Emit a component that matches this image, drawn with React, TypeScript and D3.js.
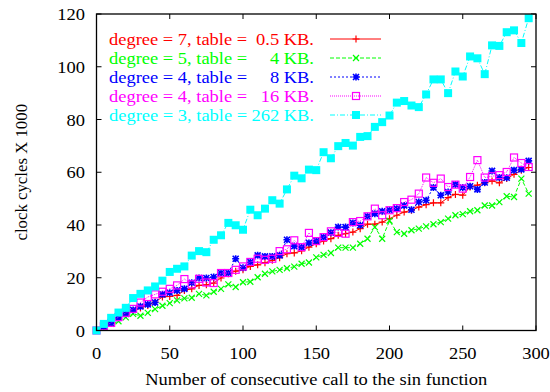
import React from "react";
import * as d3 from "d3";

// x positions: number of consecutive calls
const calls = d3.range(0, 300, 5);

// clock cycles (x1000) per configuration
const deg7Table05 = [
  0, 1.3, 2.8, 4.8, 6.1, 7.3, 8.5, 9.5, 10.8, 12.7, 12.9, 13.3, 15.2, 15.8, 17.1, 17.3, 18.0, 19.9, 21.5, 22.5,
  23.0, 24.3, 24.9, 25.7, 26.6, 27.6, 29.1, 29.4, 30.2, 31.6, 32.9, 33.9, 34.8, 36.1, 36.7, 37.3, 38.6, 40.3, 40.3, 41.1,
  42.4, 43.7, 44.9, 45.6, 46.8, 47.7, 48.4, 48.4, 50.4, 51.6, 51.3, 54.4, 55.1, 56.0, 56.7, 56.0, 57.6, 59.2, 60.8, 61.8,
];
const deg5Table4 = [
  0, 1.2, 2.5, 3.5, 5.0, 6.3, 5.6, 6.7, 8.1, 9.4, 10.4, 11.4, 12.2, 12.4, 13.9, 13.3, 14.7, 15.8, 17.5, 16.5,
  18.3, 18.5, 20.2, 21.5, 22.4, 23.0, 23.6, 24.2, 25.3, 25.8, 27.7, 28.7, 29.4, 31.4, 31.4, 31.4, 32.9, 34.8, 39.2, 34.8,
  41.6, 37.3, 36.7, 38.0, 38.6, 39.5, 40.3, 41.1, 42.4, 43.7, 44.1, 45.2, 45.6, 47.4, 47.4, 48.7, 50.9, 50.6, 57.6, 51.9,
];
const deg4Table8 = [
  0, 1.5, 2.8, 4.8, 6.3, 7.8, 9.1, 9.9, 10.6, 13.7, 14.3, 15.2, 15.8, 18.1, 19.9, 19.9, 20.3, 21.8, 21.8, 27.2,
  23.8, 25.9, 28.5, 28.1, 28.1, 28.5, 34.4, 32.0, 31.6, 33.2, 34.0, 35.4, 37.1, 39.2, 39.2, 40.8, 39.9, 43.3, 44.3, 45.2,
  45.7, 46.2, 47.4, 45.8, 48.7, 49.4, 54.2, 51.3, 52.5, 55.4, 54.2, 54.7, 53.5, 56.1, 60.5, 58.0, 57.9, 60.8, 61.1, 64.3,
];
const deg4Table16 = [
  0, 1.6, 2.9, 5.1, 6.7, 8.2, 10.6, 12.7, 13.7, 14.7, 15.8, 17.1, 19.5, 17.5, 19.6, 18.2, 18.0, 21.8, 21.8, 23.0,
  24.3, 26.0, 27.2, 26.8, 27.2, 30.1, 30.8, 34.2, 31.6, 37.0, 33.9, 35.4, 37.6, 37.0, 36.7, 41.1, 41.5, 43.3, 46.2, 43.7,
  45.6, 46.4, 48.7, 49.6, 51.9, 58.0, 56.0, 57.6, 54.4, 55.3, 53.8, 58.2, 64.6, 58.0, 58.5, 58.9, 60.1, 65.6, 63.5, 62.0,
];
const deg3Table262 = [
  0, 2.5, 4.8, 6.8, 8.6, 12.3, 13.9, 15.2, 16.7, 18.9, 22.2, 23.4, 24.3, 28.4, 30.1, 29.7, 34.4, 36.1, 40.8, 39.9,
  38.2, 45.8, 43.7, 46.2, 49.4, 48.1, 53.5, 58.7, 57.7, 61.0, 60.8, 67.6, 65.3, 69.9, 71.1, 70.1, 73.4, 73.7, 77.2, 79.0,
  81.5, 86.4, 87.0, 85.3, 84.7, 89.5, 95.2, 95.2, 90.0, 98.2, 96.3, 103.9, 103.2, 97.2, 108.1, 107.9, 113.1, 113.8, 109.0, 118.4,
];

const labelsLeft = ["degree = 7, table =", "degree = 5, table =", "degree = 4, table =", "degree = 4, table =", "degree = 3, table ="];
const labelsRight = ["0.5 KB.", "4 KB.", "8 KB.", "16 KB.", "262 KB."];
const xTicks = [0, 50, 100, 150, 200, 250, 300];
const yTicks = [0, 20, 40, 60, 80, 100, 120];

const series = [
  { values: deg7Table05, color: "#ff0000", dash: "none", marker: "plus" },
  { values: deg5Table4, color: "#00ff00", dash: "4,2", marker: "cross" },
  { values: deg4Table8, color: "#0000ff", dash: "2,2", marker: "star" },
  { values: deg4Table16, color: "#ff00ff", dash: "1,1", marker: "box" },
  { values: deg3Table262, color: "#00ffff", dash: "5,2,1,2", marker: "fbox" },
];

const W = 550;
const H = 392;
const margin = { top: 14, right: 14, bottom: 61.5, left: 96.5 };
const FONT = "'Liberation Serif', 'Times New Roman', serif";
const FS = 16.8;
const SX = 1.1; // gnuplot output is slightly wider than tall

function Marker({ kind, x, y, color }: { kind: string; x: number; y: number; color: string }) {
  const s = 3.5;
  if (kind === "plus")
    return <path d={`M${x - s},${y}H${x + s}M${x},${y - s}V${y + s}`} stroke={color} strokeWidth={1.2} />;
  if (kind === "cross")
    return <path d={`M${x - 3},${y - 3}L${x + 3},${y + 3}M${x - 3},${y + 3}L${x + 3},${y - 3}`} stroke={color} strokeWidth={1.2} />;
  if (kind === "star")
    return (
      <path
        d={`M${x - s},${y}H${x + s}M${x},${y - s}V${y + s}M${x - 3},${y - 3}L${x + 3},${y + 3}M${x - 3},${y + 3}L${x + 3},${y - 3}`}
        stroke={color}
        strokeWidth={1.6}
      />
    );
  if (kind === "box")
    return <rect x={x - 3.5} y={y - 3.5} width={7} height={7} fill="none" stroke={color} strokeWidth={1.2} />;
  return <rect x={x - 4} y={y - 4} width={8} height={8} fill={color} />;
}

function Txt({ x, y, anchor = "start", children, fill = "#000" }: any) {
  return (
    <text
      transform={`translate(${x},${y}) scale(${SX},1)`}
      textAnchor={anchor}
      fill={fill}
      fontFamily={FONT}
      fontSize={FS}
      style={{ whiteSpace: "pre" }}
    >
      {children}
    </text>
  );
}

export default function App() {
  const x = d3.scaleLinear().domain([0, 300]).range([margin.left, W - margin.right]);
  const y = d3.scaleLinear().domain([0, 120]).range([H - margin.bottom, margin.top]);
  const [x0, x1] = x.range();
  const [y0, y1] = y.range();

  const line = d3
    .line<number>()
    .x((_, i) => x(calls[i]))
    .y((d) => y(d));

  const legendY = (i: number) => 39 + i * 19;

  return (
    <svg width={W} height={H} style={{ position: "absolute", left: 0, top: 0, background: "#fff" }}>
      {/* ticks (mirrored, inward) */}
      {xTicks.map((t) => (
        <g key={"xt" + t}>
          <line x1={x(t)} x2={x(t)} y1={y0} y2={y0 - 5} stroke="#000" />
          <line x1={x(t)} x2={x(t)} y1={y1} y2={y1 + 5} stroke="#000" />
          <Txt x={x(t)} y={359} anchor="middle">{t}</Txt>
        </g>
      ))}
      {yTicks.map((t) => (
        <g key={"yt" + t}>
          <line x1={x0} x2={x0 + 5} y1={y(t)} y2={y(t)} stroke="#000" />
          <line x1={x1} x2={x1 - 5} y1={y(t)} y2={y(t)} stroke="#000" />
          <Txt x={85} y={y(t) + 6} anchor="end">{t}</Txt>
        </g>
      ))}

      {/* series */}
      {series.map((s, si) => (
        <g key={"s" + si}>
          <path d={line(s.values) || ""} fill="none" stroke={s.color} strokeWidth={1} strokeDasharray={s.dash} />
          {s.values.map((v, i) => (
            <Marker key={i} kind={s.marker} x={x(calls[i])} y={y(v)} color={s.color} />
          ))}
        </g>
      ))}

      {/* legend */}
      {series.map((s, i) => (
        <g key={"l" + i}>
          <Txt x={109} y={legendY(i) + 6} fill={s.color}>{labelsLeft[i]}</Txt>
          <Txt x={314} y={legendY(i) + 6} anchor="end" fill={s.color}>{labelsRight[i]}</Txt>
          <line x1={330} x2={381} y1={legendY(i)} y2={legendY(i)} stroke={s.color} strokeDasharray={s.dash} />
          <Marker kind={s.marker} x={356} y={legendY(i)} color={s.color} />
        </g>
      ))}

      {/* border */}
      <rect x={x0} y={y1} width={x1 - x0} height={y0 - y1} fill="none" stroke="#000" strokeWidth={1.3} />

      {/* axis titles */}
      <Txt x={(x0 + x1) / 2} y={385} anchor="middle">Number of consecutive call to the sin function</Txt>
      <text
        transform={`translate(27,${(y0 + y1) / 2}) rotate(-90)`}
        textAnchor="middle"
        fontFamily={FONT}
        fontSize={FS}
      >
        clock cycles X 1000
      </text>
    </svg>
  );
}
